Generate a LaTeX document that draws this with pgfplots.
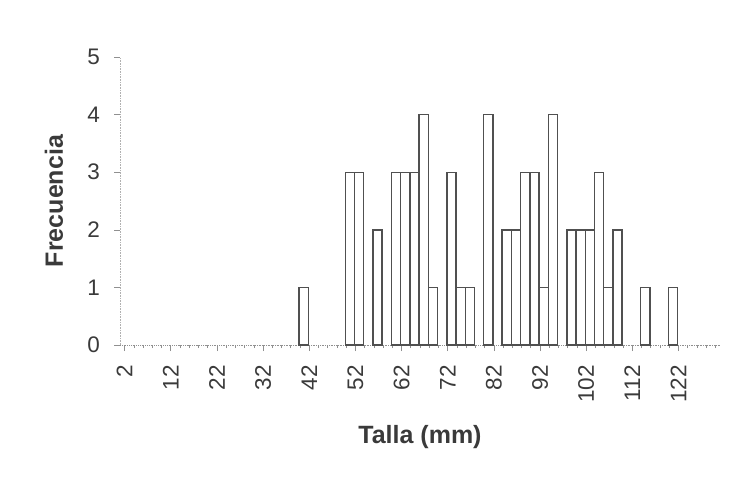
\documentclass[border=0pt]{standalone}
\usepackage{pgfplots}
\pgfplotsset{compat=1.18}
\usepackage{fontspec}
\setmainfont{Liberation Sans}
\definecolor{txt}{HTML}{3A3A3A}
\definecolor{barc}{HTML}{505050}
\definecolor{axc}{HTML}{909090}
\begin{document}
\begin{tikzpicture}[x=1pt,y=1pt]
\path[use as bounding box] (0,0) rectangle (733,479);
\begin{axis}[
  at={(120pt,134pt)}, anchor=south west,
  scale only axis, width=600pt, height=288pt,
  xmin=1, xmax=131, ymin=0, ymax=5,
  axis lines*=left,
  x axis line style={axc, densely dotted, line width=0.8pt},
  y axis line style={axc!70, densely dotted, line width=0.6pt},
  xtick={2,12,...,122},
  minor xtick={2,4,...,130},
  ytick={0,1,...,5},
  tick align=outside,
  major tick length=6pt, minor tick length=3pt,
  every tick/.style={axc, line width=0.6pt},
  /pgf/number format/assume math mode=true,
  xticklabel style={rotate=90, anchor=east, inner sep=0pt, font=\fontsize{22.5}{22.5}\selectfont, text=txt},
  yticklabel style={anchor=east, inner sep=0pt, font=\fontsize{22.5}{22.5}\selectfont, text=txt},
  xticklabel shift=14pt,
  yticklabel shift=14pt,
  xlabel={Talla (mm)}, ylabel={Frecuencia},
  xlabel style={at={(axis description cs:0.5,-0.319)}, anchor=center, font=\bfseries\fontsize{25}{25}\selectfont, text=txt},
  ylabel style={at={(axis description cs:-0.11,0.5)}, anchor=center, rotate=0, font=\bfseries\fontsize{25}{25}\selectfont, text=txt},
  clip=false,
]
\addplot[ybar, bar width=2, bar shift=-5.5pt, draw=barc, fill=white, line width=1.4pt] coordinates {
(42,1) (52,3) (54,3) (58,2) (62,3) (64,3) (66,3) (68,4) (70,1)
(74,3) (76,1) (78,1) (82,4) (86,2) (88,2) (90,3) (92,3) (94,1) (96,4)
(100,2) (102,2) (104,2) (106,3) (108,1) (110,2) (116,1) (122,1)
};
\end{axis}
\end{tikzpicture}
\end{document}
